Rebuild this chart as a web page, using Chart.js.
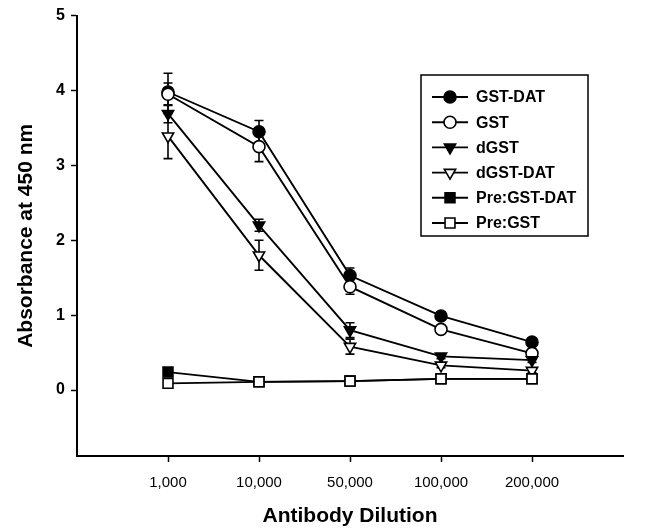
<!DOCTYPE html>
<html><head><meta charset="utf-8">
<script src="https://cdn.jsdelivr.net/npm/chart.js@4.4.1/dist/chart.umd.min.js"></script>
<style>html,body{margin:0;padding:0;background:#fff}#wrap{width:653px;height:529px;position:relative}</style>
</head><body><div id="wrap"><canvas id="c"></canvas></div>
<script>
// ---- data ----
const dilutions = ['1,000', '10,000', '50,000', '100,000', '200,000'];
const yTickValues = [0, 1, 2, 3, 4, 5];
const seriesNames = ['GST-DAT', 'GST', 'dGST', 'dGST-DAT', 'Pre:GST-DAT', 'Pre:GST'];
const gstDat    = [3.98, 3.45, 1.53, 0.99, 0.64];
const gst       = [3.95, 3.25, 1.38, 0.81, 0.49];
const dGst      = [3.69, 2.20, 0.80, 0.45, 0.40];
const dGstDat   = [3.39, 1.80, 0.58, 0.33, 0.26];
const preGstDat = [0.24, 0.11, 0.12, 0.15, 0.15];
const preGst    = [0.09, 0.11, 0.12, 0.15, 0.15];
const errGstDat    = [0.25, 0.15, 0.10, 0.03, 0.03];
const errGst       = [0.15, 0.20, 0.10, 0.03, 0.03];
const errDGst      = [0.12, 0.08, 0.10, 0.03, 0.03];
const errDGstDat   = [0.30, 0.20, 0.10, 0.03, 0.03];
const errPreGstDat = [0.02, 0.01, 0.01, 0.01, 0.01];
const errPreGst    = [0.02, 0.01, 0.01, 0.01, 0.01];

const values = [gstDat, gst, dGst, dGstDat, preGstDat, preGst];
const errors = [errGstDat, errGst, errDGst, errDGstDat, errPreGstDat, errPreGst];
const styles = [
  {pointStyle: 'circle',   rotation: 0,   radius: 6,   fill: '#000'},
  {pointStyle: 'circle',   rotation: 0,   radius: 6,   fill: '#fff'},
  {pointStyle: 'triangle', rotation: 180, radius: 6.5, fill: '#000'},
  {pointStyle: 'triangle', rotation: 180, radius: 6.5, fill: '#fff'},
  {pointStyle: 'rect',     rotation: 0,   radius: 7,   fill: '#000'},
  {pointStyle: 'rect',     rotation: 0,   radius: 7,   fill: '#fff'}
];

const datasets = seriesNames.map((name, i) => ({
  label: name,
  order: seriesNames.length - i,
  data: values[i].map((v, j) => ({x: j + 1, y: v})),
  errors: errors[i],
  borderColor: '#000',
  borderWidth: 1.9,
  backgroundColor: styles[i].fill,
  pointStyle: styles[i].pointStyle,
  pointRotation: styles[i].rotation,
  pointRadius: styles[i].radius,
  pointBackgroundColor: styles[i].fill,
  pointBorderColor: '#000',
  pointBorderWidth: 1.6,
  tension: 0,
  fill: false
}));

const errorBars = {
  id: 'errorBars',
  beforeDatasetsDraw(chart) {
    const ctx = chart.ctx, xs = chart.scales.x, ys = chart.scales.y;
    ctx.save();
    ctx.strokeStyle = '#000';
    ctx.lineWidth = 1.6;
    chart.data.datasets.forEach(ds => {
      ds.data.forEach((p, j) => {
        const e = ds.errors[j];
        const x = xs.getPixelForValue(p.x);
        const y1 = ys.getPixelForValue(p.y + e), y2 = ys.getPixelForValue(p.y - e);
        ctx.beginPath();
        ctx.moveTo(x, y1); ctx.lineTo(x, y2);
        ctx.moveTo(x - 4.5, y1); ctx.lineTo(x + 4.5, y1);
        ctx.moveTo(x - 4.5, y2); ctx.lineTo(x + 4.5, y2);
        ctx.stroke();
      });
    });
    ctx.restore();
  }
};

const boxLegend = {
  id: 'boxLegend',
  afterDraw(chart) {
    const ctx = chart.ctx;
    const bx = 421, by = 75, bw = 167, bh = 161;
    ctx.save();
    ctx.strokeStyle = '#000';
    ctx.lineWidth = 1.5;
    ctx.strokeRect(bx, by, bw, bh);
    chart.data.datasets.forEach((ds, i) => {
      const y = 97 + i * 25.2;
      ctx.strokeStyle = '#000';
      ctx.lineWidth = 1.9;
      ctx.beginPath(); ctx.moveTo(432, y); ctx.lineTo(468, y); ctx.stroke();
      ctx.fillStyle = ds.pointBackgroundColor;
      ctx.lineWidth = 1.6;
      Chart.helpers.drawPoint(ctx, {pointStyle: ds.pointStyle, rotation: ds.pointRotation, radius: ds.pointRadius, borderWidth: 1.6}, 450, y);
      ctx.fillStyle = '#000';
      ctx.font = 'bold 16px "Liberation Sans", Arial, sans-serif';
      ctx.textBaseline = 'middle';
      ctx.textAlign = 'left';
      ctx.fillText(ds.label, 476, y + 1);
    });
    ctx.restore();
  }
};

new Chart(document.getElementById('c'), {
  type: 'line',
  data: {datasets},
  plugins: [errorBars, boxLegend],
  options: {
    responsive: true,
    maintainAspectRatio: false,
    animation: false,
    layout: {padding: {left: 0, right: 30, top: 15, bottom: 0}},
    plugins: {legend: {display: false}, tooltip: {enabled: false}},
    scales: {
      x: {
        type: 'linear', min: 0, max: 6,
        afterBuildTicks: s => { s.ticks = dilutions.map((_, i) => ({value: i + 1})); },
        afterFit: s => { s.height = 73; },
        ticks: {
          callback: v => dilutions[v - 1] ?? '',
          font: {family: '"Liberation Sans", Arial, sans-serif', size: 15},
          color: '#000', padding: 12, maxRotation: 0, autoSkip: false
        },
        grid: {display: true, drawOnChartArea: false, drawTicks: true, tickLength: 6, tickWidth: 1.5, tickColor: '#000'},
        border: {display: true, color: '#000', width: 2},
        title: {display: true, text: 'Antibody Dilution', color: '#000',
          font: {family: '"Liberation Sans", Arial, sans-serif', size: 21, weight: 'bold'},
          padding: {top: 0, bottom: 0}}
      },
      y: {
        min: -0.88, max: 5,
        afterBuildTicks: s => { s.ticks = yTickValues.map(v => ({value: v})); },
        afterFit: s => { s.width = 77; },
        ticks: {
          font: {family: '"Liberation Sans", Arial, sans-serif', size: 16, weight: 'bold'},
          color: '#000', padding: 6
        },
        grid: {display: true, drawOnChartArea: false, drawTicks: true, tickLength: 6, tickWidth: 1.5, tickColor: '#000'},
        border: {display: true, color: '#000', width: 2},
        title: {display: true, text: 'Absorbance at 450 nm', color: '#000',
          font: {family: '"Liberation Sans", Arial, sans-serif', size: 21, weight: 'bold'},
          padding: {top: 14, bottom: 0}}
      }
    }
  }
});
</script></body></html>
